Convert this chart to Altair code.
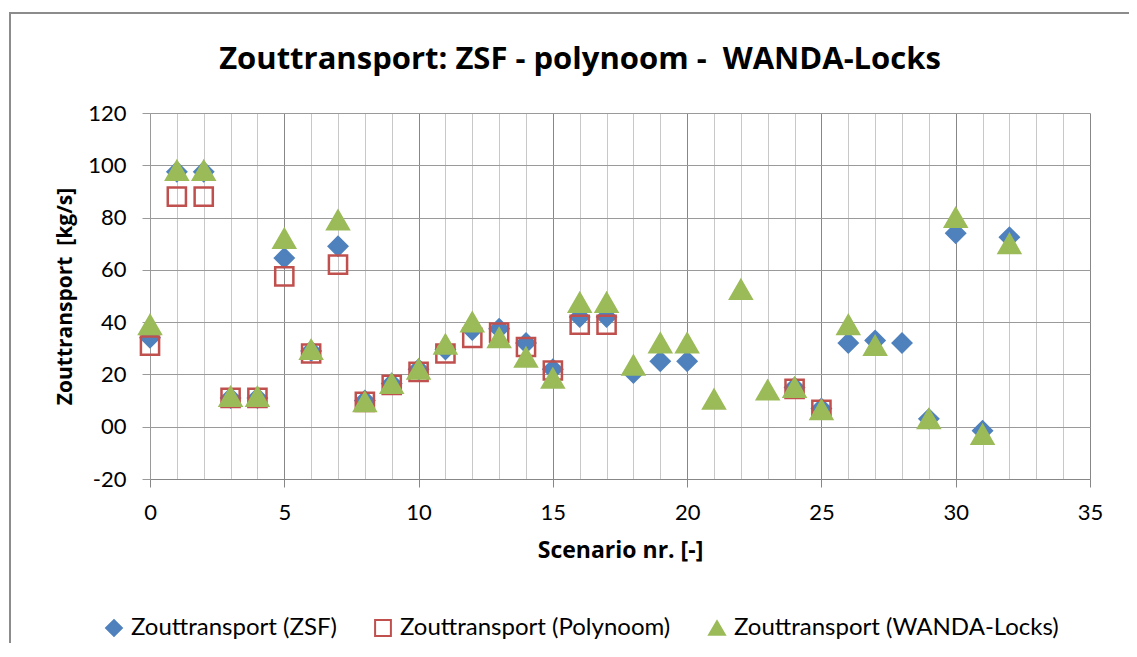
import altair as alt
import pandas as pd

scenario = list(range(33))
zsf = [34, 97.5, 97.5, 11, 11, 64.5, 29, 69, 10, 16.5, 22, 29.5, 37, 37.5, 32, 22, 42, 42,
       20.5, 25, 25, None, None, None, 15, 7, 32, 33, 32, 3, 74, -1.5, 72.5]
poly = [31, 88, 88, 11, 11, 57.5, 28, 62, 9.5, 16, 21, 28, 34, 36, 30.5, 21.5, 39, 39,
        None, None, None, None, None, None, 14.5, 6.5, None, None, None, None, None, None, None]
wanda = [39, 98, 98, 11.5, 11.5, 72, 29.5, 79, 9.5, 16.5, 22, 31.5, 40, 34, 26.5, 18.5, 47.5, 47.5,
         23.5, 32, 32, 10.5, 52.5, 14, 15, 6.5, 39, 31, None, 3, 80, -3, 70]

series_names = ["Zouttransport (ZSF)", "Zouttransport (Polynoom)", "Zouttransport (WANDA-Locks)"]
x_ticks = list(range(0, 36))
y_ticks = [-20, 0, 20, 40, 60, 80, 100, 120]
chart_title = "Zouttransport: ZSF - polynoom -\u00a0 WANDA-Locks"

rows = []
for name, vals in zip(series_names, [zsf, poly, wanda]):
    for s, v in zip(scenario, vals):
        if v is not None:
            rows.append({"scenario": s, "value": v, "series": name})
df = pd.DataFrame(rows)

FONT = "Lato"
TFONT = "Open Sans"

legend = alt.Legend(title=None, orient="none", legendX=-48, legendY=503, direction="horizontal",
                    columns=3, labelFont=FONT, labelFontSize=24, labelColor="black",
                    symbolSize=250, symbolStrokeWidth=2, labelOffset=5, columnPadding=34,
                    labelLimit=500)

fill_enc = alt.Fill("series:N", scale=alt.Scale(domain=series_names,
                    range=["#4F81BD", "transparent", "#9BBB59"]), legend=legend)
stroke_enc = alt.Stroke("series:N", scale=alt.Scale(domain=series_names,
                        range=["#4F81BD", "#C0504D", "#9BBB59"]), legend=legend)
shape_enc = alt.Shape("series:N", scale=alt.Scale(domain=series_names,
                      range=["diamond", "square", "triangle-up"]), legend=legend)

major = "datum.value % 5 === 0"
x_enc = alt.X("scenario:Q", scale=alt.Scale(domain=[0, 35], nice=False, zero=False),
              axis=alt.Axis(values=x_ticks, title="Scenario nr. [-]",
                            labelExpr=f"{major} ? datum.label : ''",
                            labelOverlap=False, labelFlush=False,
                            gridColor={"condition": {"test": major, "value": "#878787"}, "value": "#c8c8c8"},
                            tickOpacity={"condition": {"test": major, "value": 1}, "value": 0},
                            tickColor="#878787", tickSize=8, domainColor="#878787",
                            labelFont=FONT, labelFontSize=22, labelColor="black", labelPadding=15,
                            titleFont=TFONT, titleFontSize=23, titleFontWeight="bold",
                            titleColor="black", titlePadding=16))
y_enc = alt.Y("value:Q", scale=alt.Scale(domain=[-20, 120], nice=False, zero=False),
              axis=alt.Axis(values=y_ticks, title="Zouttransport\u00a0 [kg/s]",
                            labelExpr="datum.value === 0 ? '00' : toString(datum.value)",
                            gridColor="#9a9a9a", tickColor="#9a9a9a", tickSize=8,
                            domainColor="#9a9a9a",
                            labelFont=FONT, labelFontSize=22, labelColor="black", labelPadding=16,
                            titleFont=TFONT, titleFontSize=21, titleFontWeight="bold",
                            titleColor="black", titlePadding=12))

base = alt.Chart(df)
sizes = [340, 330, 450]
layers = []
for name, sz in zip(series_names, sizes):
    layers.append(
        base.transform_filter(alt.datum.series == name)
        .mark_point(size=sz, strokeWidth=2.5, opacity=1)
        .encode(x=x_enc, y=y_enc, fill=fill_enc, stroke=stroke_enc, shape=shape_enc)
    )

border = alt.Chart(alt.Data(values=[{"k": 1}])).mark_rect(
    fill="transparent", stroke="#8c8c8c", strokeWidth=2
).encode(x=alt.value(-140), x2=alt.value(1200), y=alt.value(-100), y2=alt.value(700))

title = alt.Chart(alt.Data(values=[{"t": chart_title}])).mark_text(
    font=TFONT, fontSize=31, fontWeight="bold", color="black", align="center",
    baseline="alphabetic"
).encode(text="t:N", x=alt.value(430), y=alt.value(-44))

chart = alt.layer(border, title, *layers).properties(
    width=940, height=366,
    padding={"left": 142, "top": 105, "right": 39, "bottom": 164},
    autosize=alt.AutoSizeParams(type="none"),
).configure_view(stroke=None)

chart.save("out.html", embed_options={"renderer": "svg", "actions": False})
